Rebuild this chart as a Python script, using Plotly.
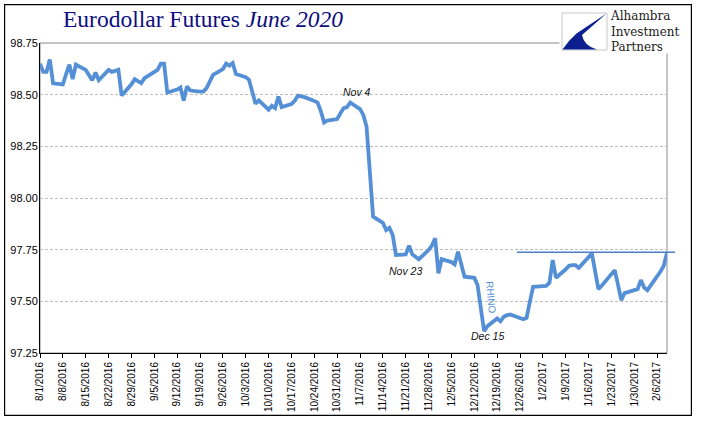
import datetime as _dt
import plotly.graph_objects as go

# ---------------- data ----------------
dates = [
    "2016-08-01", "2016-08-02", "2016-08-03", "2016-08-04", "2016-08-05",
    "2016-08-08", "2016-08-09", "2016-08-10", "2016-08-11", "2016-08-12",
    "2016-08-15", "2016-08-16", "2016-08-17", "2016-08-18", "2016-08-19",
    "2016-08-22", "2016-08-23", "2016-08-24", "2016-08-25", "2016-08-26",
    "2016-08-29", "2016-08-30", "2016-08-31", "2016-09-01", "2016-09-02",
    "2016-09-06", "2016-09-07", "2016-09-08", "2016-09-09",
    "2016-09-12", "2016-09-13", "2016-09-14", "2016-09-15", "2016-09-16",
    "2016-09-19", "2016-09-20", "2016-09-21", "2016-09-22", "2016-09-23",
    "2016-09-26", "2016-09-27", "2016-09-28", "2016-09-29", "2016-09-30",
    "2016-10-03", "2016-10-04", "2016-10-05", "2016-10-06", "2016-10-07",
    "2016-10-10", "2016-10-11", "2016-10-12", "2016-10-13", "2016-10-14",
    "2016-10-17", "2016-10-18", "2016-10-19", "2016-10-20", "2016-10-21",
    "2016-10-24", "2016-10-25", "2016-10-26", "2016-10-27", "2016-10-28",
    "2016-10-31", "2016-11-01", "2016-11-02", "2016-11-03", "2016-11-04",
    "2016-11-07", "2016-11-08", "2016-11-09", "2016-11-10", "2016-11-11",
    "2016-11-14", "2016-11-15", "2016-11-16", "2016-11-17", "2016-11-18",
    "2016-11-21", "2016-11-22", "2016-11-23", "2016-11-25",
    "2016-11-28", "2016-11-29", "2016-11-30", "2016-12-01", "2016-12-02",
    "2016-12-05", "2016-12-06", "2016-12-07", "2016-12-08", "2016-12-09",
    "2016-12-12", "2016-12-13", "2016-12-14", "2016-12-15", "2016-12-16",
    "2016-12-19", "2016-12-20", "2016-12-21", "2016-12-22", "2016-12-23",
    "2016-12-27", "2016-12-28", "2016-12-29", "2016-12-30",
    "2017-01-03", "2017-01-04", "2017-01-05", "2017-01-06",
    "2017-01-09", "2017-01-10", "2017-01-11", "2017-01-12", "2017-01-13",
    "2017-01-17", "2017-01-18", "2017-01-19", "2017-01-20",
    "2017-01-23", "2017-01-24", "2017-01-25", "2017-01-26", "2017-01-27",
    "2017-01-30", "2017-01-31", "2017-02-01", "2017-02-02", "2017-02-03",
    "2017-02-06", "2017-02-07", "2017-02-08", "2017-02-09",
]
prices = [
    98.650, 98.610, 98.610, 98.670, 98.555,
    98.550, 98.600, 98.645, 98.575, 98.645,
    98.620, 98.595, 98.570, 98.607, 98.570,
    98.620, 98.610, 98.615, 98.620, 98.496,
    98.550, 98.575, 98.565, 98.556, 98.580,
    98.620, 98.650, 98.650, 98.510,
    98.525, 98.535, 98.472, 98.540, 98.520,
    98.515, 98.515, 98.532, 98.560, 98.596,
    98.624, 98.650, 98.640, 98.653, 98.600,
    98.585, 98.572, 98.520, 98.456, 98.472,
    98.427, 98.446, 98.435, 98.491, 98.440,
    98.455, 98.470, 98.495, 98.492, 98.488,
    98.470, 98.462, 98.420, 98.365, 98.375,
    98.382, 98.410, 98.435, 98.440, 98.462,
    98.430, 98.402, 98.346, 98.096, 97.910,
    97.880, 97.845, 97.856, 97.821, 97.724,
    97.727, 97.769, 97.727, 97.704,
    97.748, 97.770, 97.805, 97.635, 97.704,
    97.690, 97.679, 97.740, 97.680, 97.619,
    97.614, 97.578, 97.465, 97.355, 97.380,
    97.417, 97.404, 97.425, 97.433, 97.436,
    97.413, 97.420, 97.497, 97.570,
    97.575, 97.590, 97.700, 97.614,
    97.655, 97.672, 97.675, 97.675, 97.662,
    97.732, 97.645, 97.559, 97.575,
    97.630, 97.651, 97.580, 97.506, 97.540,
    97.557, 97.559, 97.603, 97.567, 97.554,
    97.616, 97.644, 97.672, 97.735,
]

tick_dates = [
    "2016-08-01", "2016-08-08", "2016-08-15", "2016-08-22", "2016-08-29",
    "2016-09-05", "2016-09-12", "2016-09-19", "2016-09-26", "2016-10-03",
    "2016-10-10", "2016-10-17", "2016-10-24", "2016-10-31", "2016-11-07",
    "2016-11-14", "2016-11-21", "2016-11-28", "2016-12-05", "2016-12-12",
    "2016-12-19", "2016-12-26", "2017-01-02", "2017-01-09", "2017-01-16",
    "2017-01-23", "2017-01-30", "2017-02-06",
]
tick_labels = [
    "8/1/2016", "8/8/2016", "8/15/2016", "8/22/2016", "8/29/2016",
    "9/5/2016", "9/12/2016", "9/19/2016", "9/26/2016", "10/3/2016",
    "10/10/2016", "10/17/2016", "10/24/2016", "10/31/2016", "11/7/2016",
    "11/14/2016", "11/21/2016", "11/28/2016", "12/5/2016", "12/12/2016",
    "12/19/2016", "12/26/2016", "1/2/2017", "1/9/2017", "1/16/2017",
    "1/23/2017", "1/30/2017", "2/6/2017",
]

y_ticks = [97.25, 97.50, 97.75, 98.00, 98.25, 98.50, 98.75]
x_range = ["2016-08-01", "2017-02-09"]
y_range = [97.25, 98.75]

resistance_level = 97.737
resistance_start = "2016-12-25"

callouts = [  # (text, date, value)
    ("Nov 4", "2016-11-06", 98.515),
    ("Nov 23", "2016-11-21", 97.648),
    ("Dec 15", "2016-12-16", 97.331),
]
rhino_label = ("RHINO", "2016-12-17", 97.522)

# ---------------- layout geometry ----------------
W, H = 705, 421
# paper (framed area) in pixels
FL, FR, FT, FB = 4, 692, 4, 416
# plot area in pixels
PL, PR, PT, PB = 40.0, 667.0, 43.0, 353.0
FW, FH = FR - FL, FB - FT


def px_x(px):
    return (px - FL) / FW


def px_y(py):
    return (FB - py) / FH


BLUE = "#5590d6"

fig = go.Figure()
fig.add_trace(go.Scatter(
    x=dates, y=prices, mode="lines",
    line=dict(color=BLUE, width=3.8),
    hoverinfo="skip", showlegend=False,
))

# resistance line position derived from the axis ranges
_d0 = _dt.date.fromisoformat(x_range[0])
_d1 = _dt.date.fromisoformat(x_range[1])
_ds = _dt.date.fromisoformat(resistance_start)
res_x0 = (_ds - _d0).days / (_d1 - _d0).days
res_y = (resistance_level - y_range[0]) / (y_range[1] - y_range[0])

shapes = [
    # outer frame: black filled rect with a white inner rect
    dict(type="rect", xref="paper", yref="paper", x0=0, x1=1, y0=0, y1=1,
         fillcolor="black", line=dict(width=0), layer="below"),
    dict(type="rect", xref="paper", yref="paper",
         x0=px_x(5.2), x1=px_x(690.8), y0=px_y(414.8), y1=px_y(5.2),
         fillcolor="white", line=dict(width=0), layer="below"),
    # gray plot-area border
    dict(type="rect", xref="x domain", yref="y domain", x0=0, x1=1, y0=0, y1=1,
         line=dict(color="#8a8a8a", width=1), layer="below"),
    # logo backdrop
    dict(type="rect", xref="paper", yref="paper",
         x0=px_x(559.5), x1=px_x(689), y0=px_y(53.5), y1=px_y(6),
         fillcolor="white", line=dict(width=0), layer="above"),
    # logo icon box
    dict(type="rect", xref="paper", yref="paper",
         x0=px_x(562), x1=px_x(607), y0=px_y(50), y1=px_y(13),
         fillcolor="white", line=dict(color="#c8c8c8", width=1), layer="above"),
    # resistance line
    dict(type="line", xref="x domain", yref="y domain",
         x0=res_x0, x1=(675 - PL) / (PR - PL), y0=res_y, y1=res_y,
         line=dict(color="#4a7fc4", width=1.5), layer="above"),
]


def P(x, y):
    return f"{px_x(x):.5f},{px_y(y):.5f}"


swoosh = (f"M {P(606.5, 13.5)} L {P(576.5, 33.5)} Q {P(568, 41)} {P(562.5, 49.5)} "
          f"L {P(597, 49.5)} Q {P(584, 46)} {P(582, 35)} Z")
shapes.append(dict(type="path", xref="paper", yref="paper", path=swoosh,
                   fillcolor="#0b1f8f", line=dict(width=0), layer="above"))

annotations = [
    dict(xref="paper", yref="paper", x=px_x(61), y=px_y(18.5),
         xanchor="left", yanchor="middle", showarrow=False,
         text="Eurodollar Futures <i>June 2020</i>",
         font=dict(family="Liberation Serif", size=23.5, color="#0d0d80")),
    dict(xref="paper", yref="paper", x=px_x(608), y=px_y(31.5),
         xanchor="left", yanchor="middle", showarrow=False, align="left",
         text="Alhambra<br>Investment<br>Partners",
         font=dict(family="DejaVu Serif", size=12, color="#1a1a1a")),
]

for t, d, v in callouts:
    annotations.append(dict(
        x=d, y=v, xref="x", yref="y", showarrow=False,
        text=f"<i>{t}</i>", xanchor="center", yanchor="middle",
        font=dict(family="Liberation Sans", size=10.5, color="#111111")))

annotations.append(dict(
    x=rhino_label[1], y=rhino_label[2], xref="x", yref="y", showarrow=False,
    text=rhino_label[0], textangle=85, xanchor="center", yanchor="middle",
    font=dict(family="Liberation Sans", size=10, color=BLUE)))

fig.update_layout(
    template="none",
    width=W, height=H,
    margin=dict(l=FL, r=W - FR, t=FT, b=H - FB, pad=0, autoexpand=False),
    paper_bgcolor="white", plot_bgcolor="rgba(0,0,0,0)",
    showlegend=False,
    shapes=shapes,
    annotations=annotations,
    xaxis=dict(
        domain=[px_x(PL), px_x(PR)],
        type="date", range=x_range, automargin=False,
        tickmode="array", tickvals=tick_dates, ticktext=tick_labels,
        tickangle=-90, ticks="outside", ticklen=4, tickcolor="black",
        tickfont=dict(family="Liberation Sans", size=10, color="black"),
        showgrid=False, showline=True, linecolor="black", linewidth=1,
        zeroline=False, fixedrange=True,
    ),
    yaxis=dict(
        domain=[px_y(PB), px_y(PT)], automargin=False,
        range=y_range, tickmode="array", tickvals=y_ticks,
        tickformat=".2f", ticks="", ticklen=0, ticklabelstandoff=-1,
        tickfont=dict(family="Liberation Sans", size=11, color="black"),
        showgrid=True, gridcolor="#bdbdbd", griddash="3px,2px", gridwidth=1,
        showline=True, linecolor="black", linewidth=1,
        zeroline=False, fixedrange=True,
    ),
)

fig.write_html("out.html", config={"displayModeBar": False},
               post_script="document.body.style.margin='0px';")
